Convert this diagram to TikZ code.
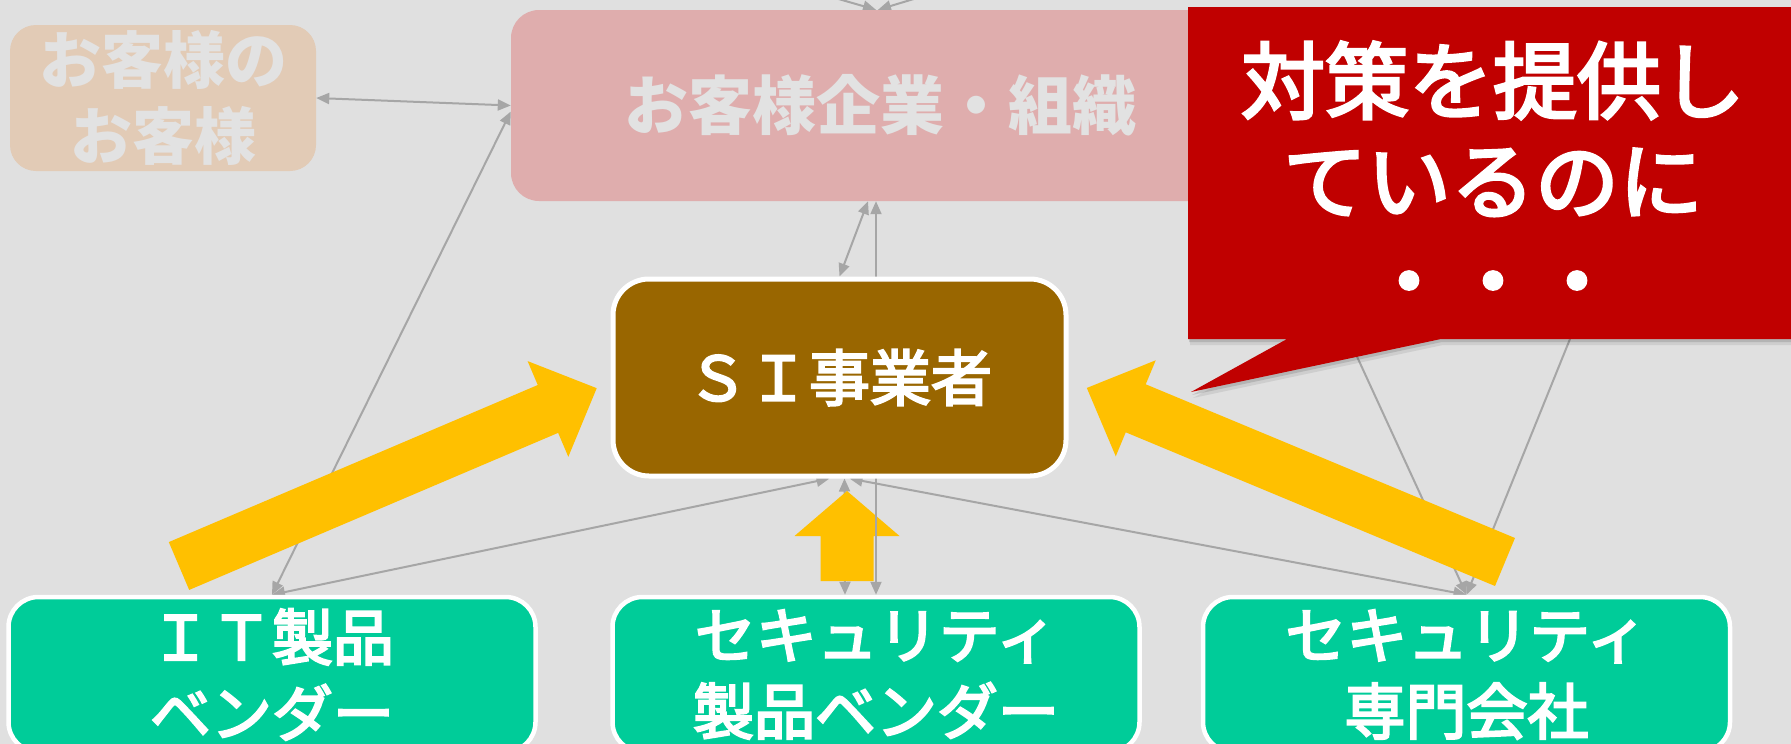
\documentclass[tikz,border=0pt]{standalone}
\usepackage{fontspec}
\newfontfamily\jp{Noto Sans CJK JP}
\newfontfamily\jpm[FakeBold=3.5]{Noto Sans CJK JP}
\usetikzlibrary{arrows.meta,calc}
\pgfdeclarelayer{bg}\pgfdeclarelayer{back}\pgfdeclarelayer{front}
\pgfsetlayers{bg,back,main,front}
\definecolor{bgc}{HTML}{E0E0E0}
\definecolor{tanc}{HTML}{E2CBB6}
\definecolor{pinkc}{HTML}{DFADAD}
\definecolor{fadetext}{HTML}{E2E2E2}
\definecolor{brownc}{HTML}{996600}
\definecolor{greenc}{HTML}{00CC99}
\definecolor{redc}{HTML}{C00000}
\definecolor{yelc}{HTML}{FFC000}
\definecolor{linec}{HTML}{A6A6A6}
% tail, angle, length, shaft half width, head half width, head length
\newcommand\yelarrow[6]{\fill[yelc, shift={#1}, rotate=#2] (0,-#4) -- ({#3-#6},-#4) -- ({#3-#6},-#5) -- (#3,0) -- ({#3-#6},#5) -- ({#3-#6},#4) -- (0,#4) -- cycle;}
\begin{document}
\begin{tikzpicture}[x=1pt,y=-1pt,
  >={Triangle[length=13pt,width=11pt]},
  conn/.style={draw=linec, line width=2pt},
  fadebox/.style={inner sep=0pt, align=center, text=fadetext,
    font=\jp\bfseries\fontsize{62}{76}\selectfont},
  sibox/.style={fill=brownc, draw=white, line width=5pt, rounded corners=36pt,
    minimum width=453pt, minimum height=197pt, inner sep=0pt, text=white,
    font=\jpm\fontsize{61}{76}\selectfont},
  greenbox/.style={fill=greenc, draw=white, line width=4.5pt, rounded corners=30pt,
    minimum width=527pt, minimum height=155pt, inner sep=0pt, align=center, text=white,
    font=\jpm\fontsize{61}{76}\selectfont},
  callouttext/.style={inner sep=0pt, align=center, text=white,
    font=\jpm\fontsize{84}{100}\selectfont}]
\useasboundingbox (0,0) rectangle (1791,744);
\begin{pgfonlayer}{bg}
\fill[bgc] (0,0) rectangle (1791,744);
\end{pgfonlayer}
% boxes
\node[fadebox, fill=tanc, rounded corners=26pt, minimum width=306pt, minimum height=146pt] (tan) at (163,98) {お客様の\\お客様};
\node[fadebox, fill=pinkc, rounded corners=28pt, minimum width=738pt, minimum height=191pt, font=\jp\bfseries\fontsize{64}{76}\selectfont] (pink) at (880,105.5) {お客様企業・組織};
\node[sibox] (si) at (839.5,377.5) {ＳＩ事業者};
\node[greenbox] (it) at (272,674.5) {ＩＴ製品\\ベンダー};
\node[greenbox] (mid) at (876,674.5) {セキュリティ\\製品ベンダー};
\node[greenbox] (spec) at (1466.5,674.5) {セキュリティ\\専門会社};
\coordinate (top1) at (790,-15);
\coordinate (top2) at (960,-15);
\coordinate (hid1) at (1308,250);
\coordinate (hid2) at (1606,250);
% connectors
\begin{pgfonlayer}{back}
\draw[conn,<->] (tan.east) -- (pink.west);
\draw[conn,<->] ($(pink.west)+(0,6)$) -- (it.north);
\draw[conn,<->] ($(pink.south)+(-12,0)$) -- (si.north);
\draw[conn,<->] (it.north) -- ($(si.south)+(-10,0)$);
\draw[conn,<->] ($(mid.north)+(-31,0)$) -- ($(si.south)+(5,0)$);
\draw[conn,<->] ($(si.south)+(10,0)$) -- (spec.north);
\draw[conn,->] (hid1) -- (spec.north);
\draw[conn,->] (hid2) -- (spec.north);
\draw[conn,->] (top1) -- ($(pink.north)+(-4,0)$);
\draw[conn,->] (top2) -- ($(pink.north)+(-2,0)$);
\yelarrow{(847,581)}{90}{90}{26.5}{52.5}{45}
\draw[conn,<->] (mid.north |- pink.south) -- (mid.north);
\end{pgfonlayer}
\begin{pgfonlayer}{front}
\yelarrow{(179,566)}{23.06}{454}{26}{52}{53}
\yelarrow{(1505,562)}{157.4}{453}{26}{52}{53}
\fill[black, opacity=.08] (1190,10) -- (1800,10) -- (1800,345) -- (1443,345) -- (1193,398) -- (1289,345) -- (1190,345) -- cycle;
\fill[black, opacity=.12] (1189,9) -- (1800,9) -- (1800,342) -- (1442,342) -- (1192,395) -- (1288,342) -- (1189,342) -- cycle;
\fill[redc] (1188,7) -- (1800,7) -- (1800,339) -- (1441,339) -- (1191,392) -- (1287,339) -- (1188,339) -- cycle;
\node[callouttext] (callout) at (1493,177) {対策を提供し\\ているのに\\・・・};
\end{pgfonlayer}
\end{tikzpicture}
\end{document}
